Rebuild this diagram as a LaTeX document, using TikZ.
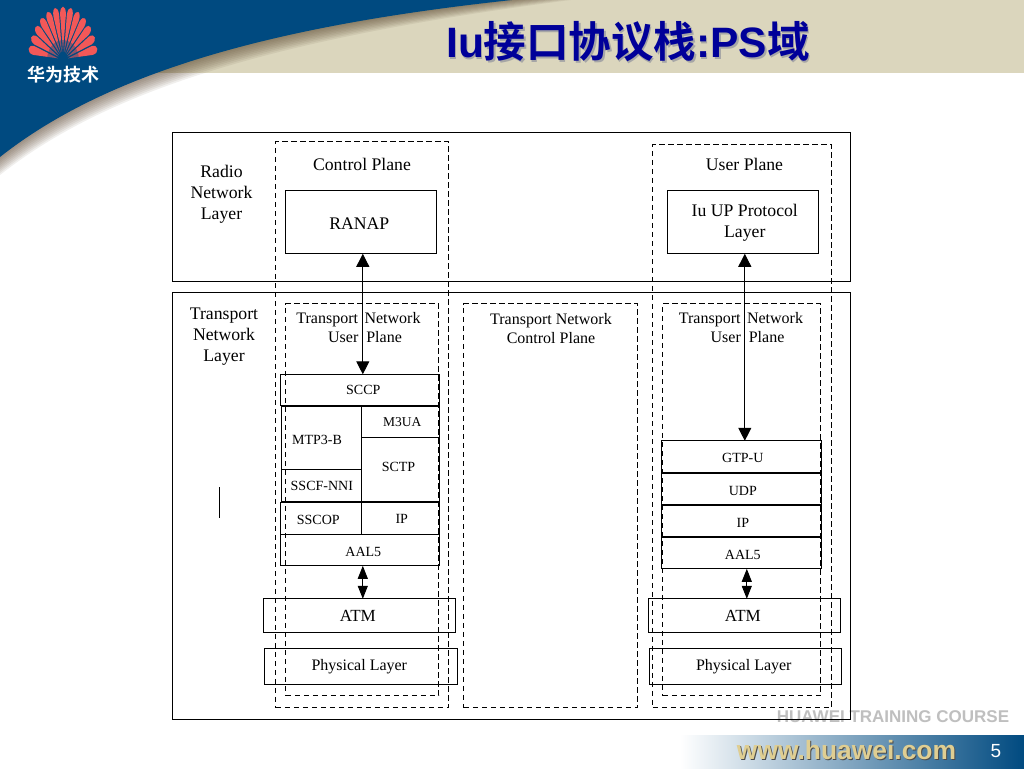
\documentclass[tikz,border=0pt]{standalone}
\usepackage{fontspec}
\setmainfont{Liberation Serif}
\newfontfamily\arialf{Liberation Sans}
\newfontfamily\cjkf{Noto Sans CJK SC}[BoldFont={Noto Sans CJK SC Bold}]
\usetikzlibrary{arrows.meta,calc}
\definecolor{hwblue}{HTML}{004A80}
\definecolor{hwbeige}{HTML}{DBD6BD}
\definecolor{titleblue}{HTML}{000099}
\definecolor{logored}{HTML}{F25858}
\definecolor{webgold}{HTML}{DFCE92}
\definecolor{shadowbrown}{HTML}{5A4630}
\newcommand{\fsz}[1]{\fontsize{#1}{#1}\selectfont}
\newcommand{\dn}[2]{\rule{0pt}{\dimexpr 0.66em+#1pt*2\relax}#2}
\newcommand{\bx}[7][]{%
  \pgfmathsetmacro{\bxw}{#5-#3}\pgfmathsetmacro{\bxh}{#6-#4}%
  \pgfmathsetmacro{\bxcx}{(#3+#5)/2-0.2}\pgfmathsetmacro{\bxcy}{(#4+#6)/2-0.2}%
  \node[#1,minimum width=\bxw pt,minimum height=\bxh pt] (#2) at (\bxcx,\bxcy) {#7};}
\tikzset{
  x=1pt,y=-1pt,
  solidbox/.style={draw=black,line width=1pt,inner sep=0pt,outer sep=0pt,align=center},
  thinbox/.style={draw=black,line width=0.8pt,inner sep=0pt,outer sep=0pt,align=center},
  framebox/.style={draw=black,line width=1pt,inner sep=0pt,outer sep=0pt},
  dashbox/.style={draw=black,line width=1.05pt,dash pattern=on 5.5pt off 3.5pt,inner sep=0pt,outer sep=0pt},
  big/.style={font=\fsz{17.7},inner sep=0pt,align=center},
  small/.style={font=\fsz{14},inner sep=0pt,align=center},
  mid/.style={font=\fsz{16},inner sep=0pt,align=center},
  arr/.style={line width=1pt,{Triangle[length=13pt,width=13pt]}-{Triangle[length=13pt,width=13pt]}},
  arrs/.style={line width=1pt,{Triangle[length=13pt,width=10pt]}-{Triangle[length=13pt,width=10pt]}},
}
\begin{document}
\begin{tikzpicture}
\useasboundingbox (0,0) rectangle (1024,768);
\fill[white] (0,0) rectangle (1024,768);
% header band
\fill[hwbeige] (0,0) rectangle (1024,73);
% shadow
\foreach \k in {1,...,9}{
  \pgfmathsetmacro{\ey}{157+2*\k}\pgfmathsetmacro{\ex}{512+6.5*\k}
  \pgfmathsetmacro{\cya}{70+2*\k}\pgfmathsetmacro{\cyb}{25+1.4*\k}
  \fill[shadowbrown,opacity=0.085]
    (0,\ey) .. controls (110,\cya) and (280,\cyb) .. (\ex,0) -- (0,0) -- cycle;
}
% blue swoosh
\fill[hwblue] (0,157) .. controls (110,70) and (280,25) .. (512,0) -- (0,0) -- cycle;
% logo
\begin{scope}[shift={(63,60)}]
\foreach \a in {-168,-155,...,-12}{
  \fill[logored] (\a:5 and 8) -- (\a+5.6:30 and 46)
     .. controls (\a+4.5:37 and 56) and (\a-4.5:37 and 56) .. (\a-5.6:30 and 46) -- cycle;
}
\fill[hwblue,opacity=0.4] (-16,0) arc[start angle=180,end angle=360,x radius=16,y radius=20] -- cycle;
\end{scope}
% title
\node[font=\cjkf\bfseries\fsz{18},text=white,inner sep=0pt] (logotext) at (63.5,75) {华为技术};
\node[font=\fsz{42.5},text=gray!70,inner sep=0pt] (titleshadow) at (629.5,43.5) {\arialf\bfseries Iu\cjkf\bfseries 接口协议栈\arialf\bfseries :PS\cjkf\bfseries 域};
\node[font=\fsz{42.5},text=titleblue,inner sep=0pt] (title) at (628,42) {\arialf\bfseries Iu\cjkf\bfseries 接口协议栈\arialf\bfseries :PS\cjkf\bfseries 域};
% footer
\shade[left color=white,middle color=hwblue!55!white,right color=hwblue,draw=none] (680,735) rectangle (1024,768);
\node[font=\arialf\bfseries\fsz{17},text=black!25,inner sep=0pt] (course) at (893,717) {HUAWEI TRAINING COURSE};
\node[font=\arialf\bfseries\fsz{26.4},text=black!70,inner sep=0pt] (webshadow) at (847.5,751.5) {www.huawei.com};
\node[font=\arialf\bfseries\fsz{26.4},text=webgold,inner sep=0pt] (web) at (846.5,750.5) {www.huawei.com};
\node[font=\arialf\fsz{19},text=white,inner sep=0pt] (pagenum) at (996,751.5) {5};
% outer frames
\bx[framebox]{radiolayer}{173}{133}{851}{282}{}
\bx[framebox]{transportlayer}{173}{293}{851}{720}{}
% dashed planes
\bx[dashbox]{cplane}{276}{142}{449}{708}{}
\bx[dashbox]{uplane}{653}{145}{832}{708}{}
\bx[dashbox]{tnul}{286}{304}{439}{696}{}
\bx[dashbox]{tncp}{464}{304}{638}{708}{}
\bx[dashbox]{tnur}{663}{304}{821}{696}{}
% labels
\node[big] (lradio) at (221.5,194) {Radio\\[3.3pt]Network\\[3.3pt]Layer};
\node[big] (ltrans) at (224,337) {Transport\\[3.3pt]Network\\[3.3pt]Layer};
\node[big] (lcp) at (362,164.5) {Control Plane};
\node[big] (lup) at (744.5,164.5) {User Plane};
\node[mid] (ltnul) at (358.5,327.5) {Transport\hspace{6.5pt}Network\\[2.5pt]\hspace*{13pt}User\ \ Plane};
\node[mid] (ltncp) at (551,328.5) {Transport Network\\[2.5pt]Control Plane};
\node[mid] (ltnur) at (741,327.5) {Transport\hspace{6.5pt}Network\\[2.5pt]\hspace*{13pt}User\ \ Plane};
% top boxes
\bx[solidbox,font=\fsz{17.7}]{ranap}{286}{191}{437}{254}{\hspace*{-4pt}\dn{1}{RANAP}}
\bx[solidbox,font=\fsz{17.7}]{iuup}{668}{191}{819}{254}{\hspace*{3pt}Iu UP Protocol\\[3.3pt]\hspace*{3pt}Layer}
% left stack
\bx[solidbox,font=\fsz{14}]{sccp}{281}{374.5}{440}{405.5}{\hspace*{6pt}SCCP}
\bx[solidbox]{mtp}{282}{406.5}{362}{470}{}
\node[small] (lmtp) at (317,440) {MTP3-B};
\bx[solidbox,font=\fsz{13.5}]{m3ua}{362}{406.5}{440}{438}{\hspace*{3pt}\dn{0.5}{M3UA}}
\bx[solidbox]{sctp}{362}{438}{440}{502}{}
\node[small] (lsctp) at (398.5,467) {SCTP};
\bx[solidbox,font=\fsz{14}]{sscf}{282}{470}{362}{502}{\dn{0.5}{SSCF-NNI}}
\bx[solidbox,font=\fsz{14}]{sscop}{281}{503}{362}{535}{\hspace*{-6pt}\dn{1.5}{SSCOP}}
\bx[solidbox,font=\fsz{14}]{ipl}{362}{503}{440}{535}{\hspace*{2pt}IP}
\bx[solidbox,font=\fsz{14}]{aal}{281}{535}{440}{566}{\hspace*{6pt}\dn{1.5}{AAL5}}
\bx[thinbox,font=\fsz{17}]{atml}{264}{599}{456}{633}{\hspace*{-4pt}ATM}
\bx[thinbox,font=\fsz{16}]{phyl}{265}{649}{458}{685}{\hspace*{-4pt}\dn{0.5}{Physical Layer}}
% right stack
\bx[solidbox,font=\fsz{14}]{gtp}{662}{441}{822}{473}{\hspace*{2pt}\dn{1.5}{GTP-U}}
\bx[solidbox,font=\fsz{14}]{udp}{662}{473.5}{822}{505}{\hspace*{2pt}\dn{1.5}{UDP}}
\bx[solidbox,font=\fsz{14}]{ipr}{662}{505.5}{822}{537}{\hspace*{2pt}\dn{1.5}{IP}}
\bx[solidbox,font=\fsz{14}]{aar}{662}{537.5}{822}{569}{\hspace*{2pt}\dn{1.5}{AAL5}}
\bx[thinbox,font=\fsz{17}]{atmr}{649}{599}{841}{633}{\hspace*{-4pt}ATM}
\bx[thinbox,font=\fsz{16}]{phyr}{650}{649}{842}{685}{\hspace*{-4pt}\dn{0.5}{Physical Layer}}
% connectors
\draw[arr] ([xshift=1.5pt]ranap.south) -- ([xshift=2.5pt]sccp.north);
\draw[arr] ([xshift=1.5pt]iuup.south) -- ([xshift=3pt]gtp.north);
\draw[arrs] ([xshift=2.5pt]aal.south) -- ([xshift=3pt]atml.north);
\draw[arrs] ([xshift=5pt]aar.south) -- ([xshift=2pt]atmr.north);
% stray mark
\draw[line width=1pt] (219,487) -- (219,518);
\end{tikzpicture}
\end{document}
